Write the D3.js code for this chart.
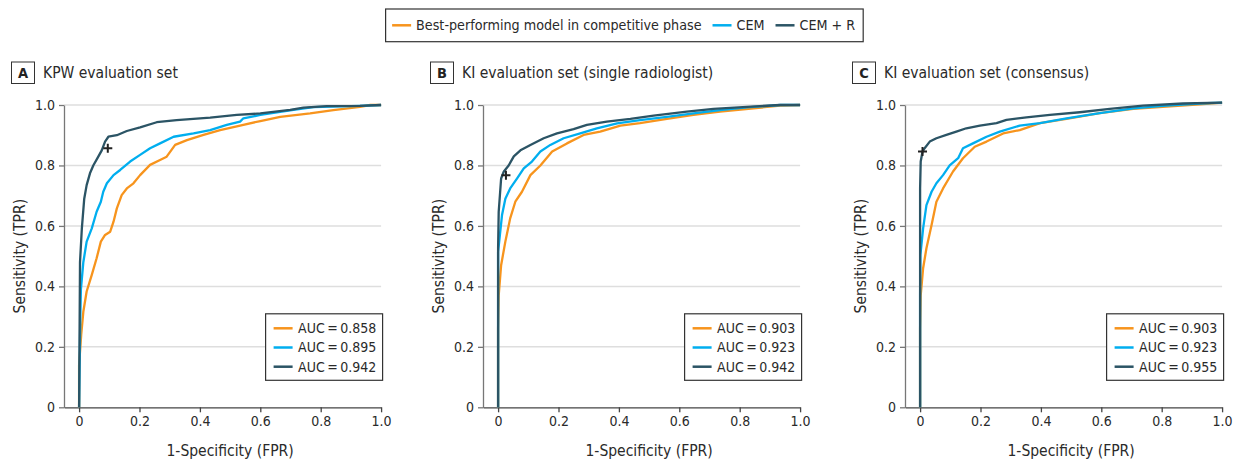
<!DOCTYPE html>
<html>
<head>
<meta charset="utf-8">
<script src="https://cdn.jsdelivr.net/npm/d3@7/dist/d3.min.js"></script>
<style>
  html, body { margin: 0; padding: 0; background: #fff; }
  svg { display: block; font-family: "DejaVu Sans Condensed", "DejaVu Sans", sans-serif; font-stretch: condensed; }
  svg text { font-family: "DejaVu Sans Condensed", "DejaVu Sans", sans-serif; font-stretch: condensed; }
</style>
</head>
<body>
<svg id="chart" width="1241" height="462"></svg>
<script>
// ---------------- DATA ----------------
const seriesNames = ["Best-performing model in competitive phase", "CEM", "CEM + R"];
const seriesColors = ["#F7941D", "#00AEEF", "#2B5465"];
const panelLetters = ["A", "B", "C"];
const panelTitles = ["KPW evaluation set", "KI evaluation set (single radiologist)", "KI evaluation set (consensus)"];
const xTicks = [0, 0.2, 0.4, 0.6, 0.8, 1.0];
const yTicks = [0, 0.2, 0.4, 0.6, 0.8, 1.0];

const aucA = [0.858, 0.895, 0.942];
const aucB = [0.903, 0.923, 0.942];
const aucC = [0.903, 0.923, 0.955];

// Operating point of CEM + R (black cross)
const opPoints = [[0.095, 0.857], [0.026, 0.768], [0.008, 0.846]];

// Panel A: KPW evaluation set  [FPR, TPR]
const rocA_best = [[0,0],[0,0.14],[0.007,0.24],[0.014,0.316],[0.025,0.383],[0.042,0.438],[0.058,0.493],[0.072,0.548],[0.086,0.57],[0.103,0.581],[0.114,0.614],[0.125,0.658],[0.141,0.702],[0.158,0.724],[0.18,0.741],[0.202,0.768],[0.235,0.802],[0.268,0.818],[0.29,0.829],[0.318,0.868],[0.357,0.884],[0.412,0.901],[0.467,0.917],[0.533,0.932],[0.6,0.947],[0.666,0.961],[0.765,0.972],[0.842,0.983],[0.93,0.994],[0.964,1.0],[1,1]];
const rocA_cem = [[0,0],[0.004,0.3],[0.006,0.39],[0.014,0.48],[0.025,0.548],[0.042,0.592],[0.058,0.647],[0.072,0.68],[0.08,0.713],[0.092,0.741],[0.114,0.768],[0.136,0.785],[0.169,0.813],[0.202,0.835],[0.235,0.857],[0.268,0.873],[0.313,0.895],[0.379,0.906],[0.434,0.917],[0.489,0.934],[0.533,0.945],[0.544,0.956],[0.6,0.967],[0.71,0.984],[0.776,0.993],[0.93,0.997],[1,1]];
const rocA_cemr = [[0,0],[0.003,0.48],[0.009,0.59],[0.017,0.69],[0.025,0.735],[0.036,0.774],[0.047,0.8],[0.064,0.83],[0.075,0.85],[0.086,0.879],[0.097,0.895],[0.125,0.9],[0.158,0.914],[0.202,0.926],[0.257,0.943],[0.323,0.95],[0.434,0.958],[0.522,0.967],[0.6,0.972],[0.699,0.984],[0.743,0.991],[0.82,0.996],[0.93,0.997],[1,1]];

// Panel B: KI evaluation set (single radiologist)
const rocB_best = [[0,0],[0,0.26],[0.002,0.37],[0.01,0.47],[0.024,0.548],[0.04,0.625],[0.057,0.68],[0.079,0.713],[0.107,0.768],[0.14,0.8],[0.179,0.846],[0.228,0.873],[0.283,0.901],[0.338,0.912],[0.405,0.932],[0.47,0.94],[0.559,0.954],[0.647,0.967],[0.735,0.978],[0.846,0.989],[0.934,0.998],[1,1]];
const rocB_cem = [[0,0],[0,0.515],[0.006,0.57],[0.013,0.636],[0.024,0.69],[0.04,0.724],[0.063,0.757],[0.085,0.79],[0.112,0.813],[0.14,0.846],[0.173,0.868],[0.217,0.89],[0.272,0.906],[0.327,0.923],[0.394,0.939],[0.47,0.95],[0.559,0.961],[0.647,0.972],[0.735,0.983],[0.824,0.992],[0.934,1.0],[1,1]];
const rocB_cemr = [[0,0],[0,0.526],[0.002,0.647],[0.01,0.757],[0.019,0.78],[0.035,0.8],[0.052,0.83],[0.074,0.85],[0.107,0.868],[0.151,0.89],[0.195,0.906],[0.25,0.92],[0.294,0.934],[0.36,0.945],[0.438,0.954],[0.515,0.965],[0.625,0.978],[0.713,0.987],[0.824,0.994],[0.934,1.0],[1,1]];

// Panel C: KI evaluation set (consensus)
const rocC_best = [[0,0],[0,0.26],[0.002,0.37],[0.01,0.46],[0.021,0.526],[0.038,0.603],[0.054,0.68],[0.076,0.724],[0.109,0.78],[0.142,0.824],[0.181,0.862],[0.22,0.879],[0.275,0.906],[0.33,0.917],[0.397,0.94],[0.485,0.954],[0.595,0.973],[0.706,0.987],[0.816,0.995],[0.926,1.002],[1,1.008]];
const rocC_cem = [[0,0],[0,0.37],[0.001,0.504],[0.01,0.592],[0.021,0.669],[0.038,0.713],[0.054,0.741],[0.076,0.768],[0.098,0.8],[0.126,0.824],[0.142,0.857],[0.175,0.873],[0.22,0.895],[0.264,0.912],[0.33,0.932],[0.397,0.94],[0.485,0.956],[0.595,0.973],[0.706,0.989],[0.816,0.998],[0.926,1.005],[1,1.008]];
const rocC_cemr = [[0,0],[0,0.37],[0,0.57],[0,0.724],[0.002,0.813],[0.008,0.846],[0.015,0.857],[0.032,0.879],[0.054,0.89],[0.087,0.901],[0.12,0.912],[0.153,0.923],[0.198,0.932],[0.253,0.94],[0.286,0.951],[0.352,0.959],[0.43,0.967],[0.529,0.976],[0.628,0.987],[0.738,0.998],[0.871,1.005],[1,1.008]];

// ---------------- LAYOUT ----------------
const panels = [
  { curves: [rocA_best, rocA_cem, rocA_cemr], auc: aucA, op: opPoints[0] },
  { curves: [rocB_best, rocB_cem, rocB_cemr], auc: aucB, op: opPoints[1] },
  { curves: [rocC_best, rocC_cem, rocC_cemr], auc: aucC, op: opPoints[2] }
];
const axisLefts = [64, 483, 905];
const plotTop = 105, plotBottom = 407.3;
const unit = 302;
const FONT = '"DejaVu Sans Condensed", "DejaVu Sans", sans-serif';

const svg = d3.select("#chart");
const fmt = d => d === 0 ? "0" : d3.format(".1f")(d);

panels.forEach((p, i) => {
  const left = axisLefts[i];
  const x = d3.scaleLinear().domain([-0.05, 1]).range([left, left + unit * 1.05]);
  const y = d3.scaleLinear().domain([0, 1]).range([plotBottom, plotTop]);
  const g = svg.append("g");

  // gridlines
  g.append("g").selectAll("line").data(yTicks.filter(d => d > 0)).join("line")
    .attr("x1", x(-0.05)).attr("x2", x(1))
    .attr("y1", d => y(d)).attr("y2", d => y(d))
    .attr("stroke", "#dedede").attr("stroke-width", 1.5);

  // axes
  const ya = g.append("g").attr("transform", `translate(${x(-0.05)},0)`)
    .call(d3.axisLeft(y).tickValues(yTicks).tickFormat(fmt).tickSize(5).tickSizeOuter(0).tickPadding(4));
  ya.select(".domain").attr("stroke", "#777").attr("stroke-width", 1.3);
  ya.selectAll(".tick line").attr("stroke", "#777").attr("stroke-width", 1.3);
  ya.selectAll("text").attr("font-size", 14).attr("fill", "#2a2a2a").attr("font-family", FONT);

  const xa = g.append("g").attr("transform", `translate(0,${plotBottom})`)
    .call(d3.axisBottom(x).tickValues(xTicks).tickFormat(fmt).tickSize(5).tickSizeOuter(0).tickPadding(4));
  xa.select(".domain").attr("stroke", "#444").attr("stroke-width", 1.3);
  xa.selectAll(".tick line").attr("stroke", "#444").attr("stroke-width", 1.3);
  xa.selectAll("text").attr("font-size", 14).attr("fill", "#2a2a2a").attr("font-family", FONT);

  // curves
  const line = d3.line().x(d => x(d[0])).y(d => y(d[1]));
  g.append("g").selectAll("path").data(p.curves).join("path")
    .attr("d", line)
    .attr("fill", "none")
    .attr("stroke", (d, k) => seriesColors[k])
    .attr("stroke-width", 2.3)
    .attr("stroke-linejoin", "round");

  // operating point cross
  g.append("path")
    .attr("transform", `translate(${x(p.op[0])},${y(p.op[1])})`)
    .attr("d", "M-4.5,0H4.5M0,-4.5V4.5")
    .attr("stroke", "#222").attr("stroke-width", 2);

  // axis titles
  g.append("text")
    .attr("transform", `translate(${left - 44},${(plotTop + plotBottom) / 2}) rotate(-90)`)
    .attr("text-anchor", "middle").attr("dominant-baseline", "central")
    .attr("font-size", 15.5).attr("fill", "#2a2a2a")
    .text("Sensitivity (TPR)");
  g.append("text")
    .attr("x", (x(0) + x(1)) / 2).attr("y", 456)
    .attr("text-anchor", "middle")
    .attr("font-size", 15.5).attr("fill", "#2a2a2a")
    .text("1-Specificity (FPR)");

  // panel title
  const bx = left - 53;
  g.append("rect").attr("x", bx + 0.5).attr("y", 62).attr("width", 23).attr("height", 21.5)
    .attr("fill", "#fff").attr("stroke", "#333").attr("stroke-width", 1);
  g.append("text").attr("x", bx + 12).attr("y", 78).attr("text-anchor", "middle")
    .attr("font-size", 14.5).attr("font-weight", "bold").attr("fill", "#222")
    .text(panelLetters[i]);
  g.append("text").attr("x", bx + 32).attr("y", 78)
    .attr("font-size", 15.5).attr("fill", "#2a2a2a")
    .text(panelTitles[i]);

  // AUC legend
  const lw = 118, lh = 67.5;
  const lx = x(1) + 2 - lw, ly = 313.3;
  const lg = g.append("g").attr("transform", `translate(${lx},${ly})`);
  lg.append("rect").attr("x", 0.5).attr("y", 0.5).attr("width", lw - 1).attr("height", lh - 1)
    .attr("fill", "#fff").attr("stroke", "#333").attr("stroke-width", 1.2);
  p.auc.forEach((a, k) => {
    const ry = 15 + k * 19.2;
    lg.append("line").attr("x1", 8.5).attr("x2", 27.5).attr("y1", ry).attr("y2", ry)
      .attr("stroke", seriesColors[k]).attr("stroke-width", 2.5);
    lg.append("text").attr("x", 33).attr("y", ry).attr("dominant-baseline", "central")
      .attr("font-size", 14).attr("fill", "#2a2a2a")
      .text("AUC\u2009=\u2009" + d3.format(".3f")(a));
  });
});

// top legend
const legG = svg.append("g");
let cx = 0;
seriesNames.forEach((name, k) => {
  const it = legG.append("g").attr("transform", `translate(${cx},0)`);
  it.append("line").attr("x1", 0).attr("x2", 19).attr("y1", 0).attr("y2", 0)
    .attr("stroke", seriesColors[k]).attr("stroke-width", 2.5);
  const t = it.append("text").attr("x", 24).attr("y", 0).attr("dominant-baseline", "central")
    .attr("font-size", 14.2).attr("fill", "#2a2a2a").text(name);
  const w = t.node().getComputedTextLength();
  cx += 24 + w + 11;
});
const contentW = cx - 11;
const padL = 6.5, padR = 8;
const boxW = contentW + padL + padR;
const centerX = 624.4;
const boxX = centerX - boxW / 2;
legG.attr("transform", `translate(${boxX + padL},25.3)`);
svg.insert("rect", "g").attr("x", boxX).attr("y", 9).attr("width", boxW).attr("height", 32.7)
  .attr("fill", "#fff").attr("stroke", "#333").attr("stroke-width", 1.2);
</script>
</body>
</html>
